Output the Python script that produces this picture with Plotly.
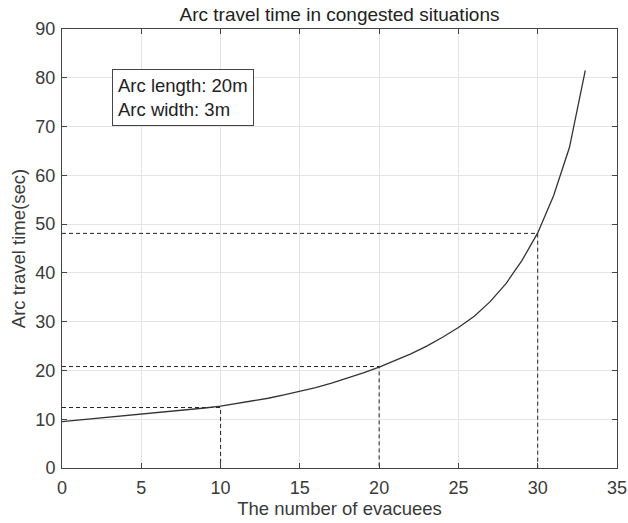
import plotly.graph_objects as go

# Data
evacuees = list(range(0, 34))
travel_time = [9.5, 9.8, 10.1, 10.4, 10.7, 11.0, 11.3, 11.7, 12.0, 12.3,
               12.7, 13.2, 13.7, 14.3, 15.0, 15.7, 16.5, 17.4, 18.4, 19.5,
               20.7, 22.0, 23.4, 25.0, 26.8, 28.8, 31.1, 34.1, 37.8, 42.5,
               48.2, 55.8, 65.7, 81.5]

marked_x = [10, 20, 30]
marked_y = [12.4, 20.8, 48.1]

x_ticks = [0, 5, 10, 15, 20, 25, 30, 35]
y_ticks = [0, 10, 20, 30, 40, 50, 60, 70, 80, 90]

title_text = "Arc travel time in congested situations"
x_title = "The number of evacuees"
y_title = "Arc travel time(sec)"
note_lines = ["Arc length: 20m", "Arc width: 3m"]

FONT = "Liberation Sans, Arial, sans-serif"
TXT = "#3a3a3a"

fig = go.Figure()

# dashed guide lines
for mx, my in zip(marked_x, marked_y):
    fig.add_trace(go.Scatter(x=[0, mx, mx], y=[my, my, 0], mode="lines",
                             line=dict(color="#222222", width=1, dash="4px,3px"),
                             showlegend=False, hoverinfo="skip"))

fig.add_trace(go.Scatter(x=evacuees, y=travel_time, mode="lines",
                         line=dict(color="#333333", width=1.3),
                         showlegend=False))

axis_common = dict(showline=True, linecolor="#444444", linewidth=1,
                   mirror="ticks", ticks="inside", ticklen=5, tickcolor="#444444",
                   showgrid=True, gridcolor="#e4e4e4", gridwidth=1, zeroline=False,
                   automargin=False,
                   tickfont=dict(family=FONT, size=18, color=TXT))

fig.update_xaxes(range=[0, 35], tickvals=x_ticks, ticklabelstandoff=3,
                 title=dict(text=x_title, font=dict(family=FONT, size=18.5, color=TXT), standoff=4),
                 **axis_common)
fig.update_yaxes(range=[0, 90], tickvals=y_ticks, ticklabelstandoff=2,
                 title=dict(text=y_title, font=dict(family=FONT, size=18.5, color=TXT), standoff=4),
                 **axis_common)

fig.add_annotation(xref="paper", yref="paper", x=(112 - 62) / 555, y=(468 - 69) / 439,
                   xanchor="left", yanchor="top", align="left", showarrow=False,
                   text="<br>".join(note_lines),
                   font=dict(family=FONT, size=18.5, color="#222222"),
                   bordercolor="#444444", borderwidth=1, borderpad=5, bgcolor="white")

fig.update_layout(width=628, height=523,
                  margin=dict(l=62, r=11, t=29, b=55),
                  paper_bgcolor="white", plot_bgcolor="white",
                  title=dict(text=title_text, x=(62 + 555 / 2) / 628, xanchor="center",
                             y=1 - 14 / 523, yanchor="middle",
                             font=dict(family=FONT, size=19, color="#222222")))

fig.write_html("out.html")
